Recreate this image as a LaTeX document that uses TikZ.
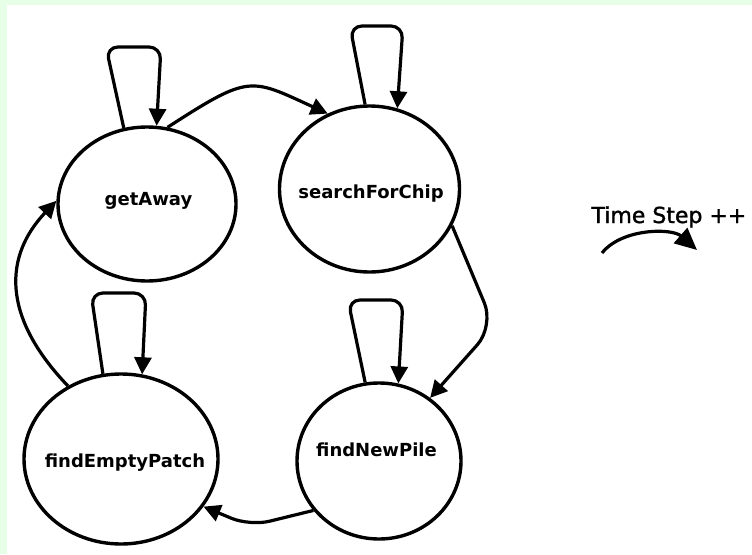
\documentclass[tikz,border=0pt]{standalone}
\usepackage{fontspec}
\setmainfont{DejaVu Sans}
\newfontfamily\statefont{DejaVu Sans Bold}
\newfontfamily\timefont[FakeBold=1.5]{DejaVu Sans}
\usetikzlibrary{shapes.geometric,arrows.meta}
\definecolor{pagegreen}{RGB}{230,255,230}
\begin{document}
\begin{tikzpicture}[x=1pt, y=-1pt,
  state/.style={ellipse, draw, line width=3.4pt, inner sep=0pt},
  trans/.style={line width=3.2pt, line join=round, -{Triangle[width=17pt,length=17pt]}},
  loop/.style={trans, rounded corners=12pt},
  every label/.style={font=\statefont\fontsize{18}{21}\selectfont}]
\fill[pagegreen] (0,0) rectangle (752,554);
\fill[white] (7,5) rectangle (752,554);
\useasboundingbox (0,0) rectangle (752,554);
\node[state, minimum width=178pt, minimum height=154pt, label={[xshift=1.5pt, yshift=3.5pt]center:getAway}] (getAway) at (147,204) {};
\node[state, minimum width=180pt, minimum height=166pt, label={[xshift=1.5pt, yshift=-5pt]center:searchForChip}] (searchForChip) at (369.5,189) {};
\node[state, minimum width=194pt, minimum height=170pt, label={[xshift=4pt, yshift=-4pt]center:findEmptyPatch}] (findEmptyPatch) at (121,459) {};
\node[state, minimum width=164pt, minimum height=156pt, label={[xshift=-2.5pt, yshift=11pt]center:findNewPile}] (findNewPile) at (379,461) {};
\draw[loop] (getAway.107) -- (106,47) -- (161,47) -- (getAway.83);
\draw[loop] (searchForChip.93) -- (350,26) -- (403,26) -- (searchForChip.71);
\draw[loop] (findEmptyPatch.102) -- (91,293) -- (146,293) -- (findEmptyPatch.76);
\draw[loop] (findNewPile.100) -- (348,300) -- (403,300) -- (findNewPile.76);
\draw[trans] (getAway.75) .. controls (250,74) and (250,78) .. (searchForChip.119);
\draw[trans, rounded corners=25pt] (searchForChip.-24) -- (494,326) -- (findNewPile.51);
\draw[trans, rounded corners=20pt] (findNewPile.217) -- (250,526) -- (findEmptyPatch.-30);
\draw[trans] (findEmptyPatch.126) .. controls (0,315) and (5,255) .. (getAway.178);
\node[font=\timefont\fontsize{22}{26}\selectfont, anchor=base west] (timeStep) at (588,223) {Time Step ++};
\coordinate (tickStart) at (602,253);
\coordinate (tickEnd) at (697,250);
\draw[trans, -{Triangle[width=20pt,length=22pt]}] (tickStart) .. controls (622,228) and (672,228) .. (tickEnd);
\end{tikzpicture}
\end{document}
